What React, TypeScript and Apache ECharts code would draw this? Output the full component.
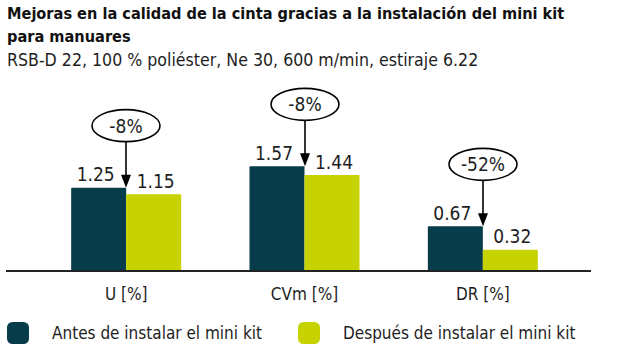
import React, { useEffect, useRef } from "react";
import * as echarts from "echarts";

const categories = ["U [%]", "CVm [%]", "DR [%]"];
const before = [1.25, 1.57, 0.67];
const after = [1.15, 1.44, 0.32];
const changes = ["-8%", "-8%", "-52%"];
const seriesNames = ["Antes de instalar el mini kit", "Después de instalar el mini kit"];
const titleText = "Mejoras en la calidad de la cinta gracias a la instalación del mini kit\npara manuares";
const subText = "RSB-D 22, 100 % poliéster, Ne 30, 600 m/min, estiraje 6.22";

const FONT = '"Liberation Sans Narrow", "DejaVu Sans Condensed", "Open Sans", sans-serif';
const DARK = "#073c4b";
const GREEN = "#c6d300";
const INK = "#1e1e1e";

export default function App() {
  const ref = useRef<HTMLDivElement>(null);
  useEffect(() => {
    if (!ref.current) return;
    const chart = echarts.init(ref.current, undefined, { renderer: "svg" });
    const labelStyle = { show: true, position: "top", distance: 4, fontSize: 19, color: INK, fontFamily: FONT };
    chart.setOption({
      animation: false,
      textStyle: { fontFamily: FONT },
      title: {
        text: titleText,
        subtext: subText,
        left: 7,
        top: 2,
        padding: 0,
        itemGap: 1,
        textStyle: { fontSize: 16.2, fontWeight: "bold", lineHeight: 23, color: "#111", fontFamily: FONT },
        subtextStyle: { fontSize: 17.6, lineHeight: 22, color: INK, fontFamily: FONT },
      },
      legend: [
        {
          data: [seriesNames[0]],
          left: 7,
          top: 322,
          padding: 0,
          itemWidth: 22,
          itemHeight: 22,
          icon: "roundRect",
          selectedMode: false,
          textStyle: { fontSize: 17, color: INK, fontFamily: FONT, padding: [0, 0, 0, 18] },
        },
        {
          data: [seriesNames[1]],
          left: 298,
          top: 322,
          padding: 0,
          itemWidth: 22,
          itemHeight: 22,
          icon: "roundRect",
          selectedMode: false,
          textStyle: { fontSize: 17, color: INK, fontFamily: FONT, padding: [0, 0, 0, 18] },
        },
      ],
      grid: { left: 37, right: 61, top: 71, bottom: 93 },
      xAxis: {
        type: "category",
        data: categories,
        axisLine: { show: false },
        axisTick: { show: false },
        axisLabel: { margin: 14, fontSize: 17, color: INK, fontFamily: FONT },
      },
      yAxis: { type: "value", min: 0, max: 3, show: false, splitLine: { show: false } },
      series: [
        {
          name: seriesNames[0],
          type: "bar",
          data: before,
          barWidth: 55,
          barGap: "0%",
          itemStyle: { color: DARK, borderRadius: [1, 1, 0, 0] },
          label: { ...labelStyle, offset: [-3, 0] },
        },
        {
          name: seriesNames[1],
          type: "bar",
          data: after,
          barWidth: 55,
          barGap: "0%",
          itemStyle: { color: GREEN, borderRadius: [1, 1, 0, 0] },
          label: { ...labelStyle, offset: [2, 0] },
        },
      ],
    });

    const graphics: any[] = [];
    const base = chart.convertToPixel({ xAxisIndex: 0, yAxisIndex: 0 }, [0, 0]) as number[];
    graphics.push({
      type: "line",
      shape: { x1: 6, y1: base[1], x2: 591, y2: base[1] },
      style: { stroke: "#222", lineWidth: 2 },
      z: 10,
    });
    before.forEach((v, i) => {
      const p = chart.convertToPixel({ xAxisIndex: 0, yAxisIndex: 0 }, [i, v]) as number[];
      const x = Math.round(p[0]);
      const top = p[1];
      const cy = top - 62;
      const ry = 16;
      const rx = 34;
      graphics.push({
        type: "line",
        shape: { x1: x, y1: cy + ry, x2: x, y2: top - 10 },
        style: { stroke: "#000", lineWidth: 1.6 },
        z: 20,
      });
      graphics.push({
        type: "polygon",
        shape: { points: [[x - 5, top - 13], [x + 5, top - 13], [x, top]] },
        style: { fill: "#000" },
        z: 20,
      });
      graphics.push({
        type: "ellipse",
        shape: { cx: x, cy, rx, ry },
        style: { fill: "#fff", stroke: "#000", lineWidth: 1.6 },
        z: 21,
      });
      graphics.push({
        type: "text",
        x,
        y: cy,
        style: {
          text: changes[i],
          fontSize: 19,
          fontFamily: FONT,
          fill: INK,
          align: "center",
          verticalAlign: "middle",
        },
        z: 22,
      });
    });
    chart.setOption({ graphic: graphics });
    return () => chart.dispose();
  }, []);
  return <div ref={ref} style={{ width: 633, height: 364, position: "absolute", left: 0, top: 0 }} />;
}
